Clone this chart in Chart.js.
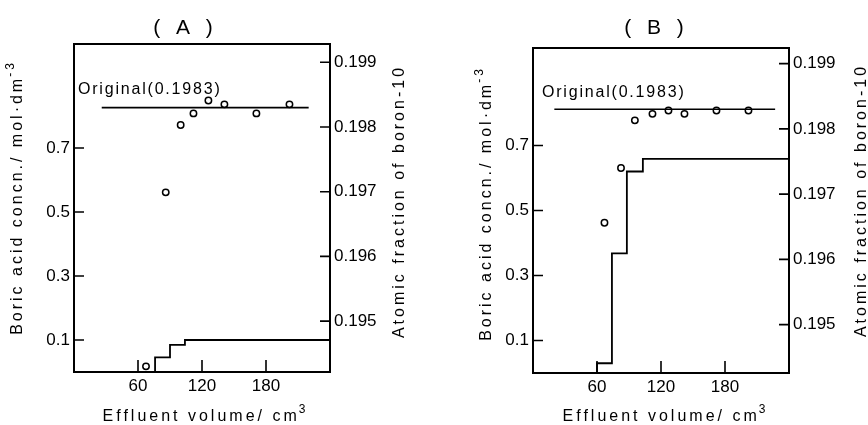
<!DOCTYPE html>
<html>
<head>
<meta charset="utf-8">
<script src="https://cdn.jsdelivr.net/npm/chart.js@4.4.1/dist/chart.umd.min.js"></script>
<style>
  html, body { margin: 0; padding: 0; background: #fff; }
  #wrap { position: relative; width: 868px; height: 425px; }
  .panel { position: absolute; top: 0; width: 434px; height: 425px; }
</style>
</head>
<body>
<div id="wrap">
  <div class="panel" style="left:0"><canvas id="chartA" width="434" height="425"></canvas></div>
  <div class="panel" style="left:434px"><canvas id="chartB" width="434" height="425"></canvas></div>
</div>
<script>
// tick labels
const volumeTicks = [60, 120, 180];
const concTicks = [0.1, 0.3, 0.5, 0.7];
const fractionTicks = [0.195, 0.196, 0.197, 0.198, 0.199];
const originalFraction = 0.1983;

// (A) atomic fraction of boron-10 per fraction (right axis)
const volA = [67.5, 86, 100, 112, 126, 141, 171, 202];
const fracA = [0.19430, 0.19699, 0.19803, 0.19821, 0.19841, 0.19835, 0.19821, 0.19835];
// (A) boric acid concentration, stepwise (left axis)
const stepVolA = [76, 76, 90, 104, 240];
const stepConcA = [0, 0.046, 0.085, 0.100, 0.100];
const originalVolA = [26, 220];

// (B)
const volB = [67, 82.5, 95.5, 112, 127, 142, 172, 202];
const fracB = [0.19656, 0.19740, 0.19813, 0.19823, 0.19828, 0.19823, 0.19828, 0.19828];
const stepVolB = [60, 60, 74, 88, 103, 240];
const stepConcB = [0, 0.030, 0.368, 0.620, 0.659, 0.659];
const originalVolB = [20, 227];

const INK = '#000';
const FONT = "'Liberation Sans', Arial, sans-serif";
Chart.defaults.font.family = FONT;
Chart.defaults.font.size = 17;
Chart.defaults.color = INK;

// text with a raised exponent, centred on (x, y) in the current (maybe rotated) frame
function drawWithSup(ctx, base, sup, x, y) {
    ctx.font = '16px ' + FONT;
    const w1 = ctx.measureText(base).width;
    ctx.font = '12px ' + FONT;
    const w2 = ctx.measureText(sup).width;
    const start = x - (w1 + w2) / 2;
    ctx.textAlign = 'left';
    ctx.font = '16px ' + FONT;
    ctx.fillText(base, start, y);
    ctx.font = '12px ' + FONT;
    ctx.fillText(sup, start + w1 - 1, y - 7);
}

// frame, inward tick marks and spaced-out titles
const framePlugin = {
    id: 'frame',
    afterDraw(chart, args, opts) {
        const { ctx, chartArea: a, scales } = chart;
        ctx.save();
        ctx.strokeStyle = INK;
        ctx.lineWidth = 2;
        ctx.strokeRect(a.left, a.top, a.width, a.height);

        ctx.lineWidth = 1.6;
        ctx.beginPath();
        scales.x.ticks.forEach(t => {
            const px = scales.x.getPixelForValue(t.value);
            ctx.moveTo(px, a.bottom);
            ctx.lineTo(px, a.bottom - 12);
        });
        scales.y.ticks.forEach(t => {
            const py = scales.y.getPixelForValue(t.value);
            ctx.moveTo(a.left, py);
            ctx.lineTo(a.left + 10, py);
        });
        scales.y2.ticks.forEach(t => {
            const py = scales.y2.getPixelForValue(t.value);
            ctx.moveTo(a.right, py);
            ctx.lineTo(a.right - 10, py);
        });
        ctx.stroke();

        ctx.fillStyle = INK;
        ctx.textAlign = 'center';
        ctx.textBaseline = 'middle';

        ctx.font = '21px ' + FONT;
        ctx.letterSpacing = '5px';
        ctx.fillText(opts.label, opts.labelX + 2.5, 28);

        // label of the original line
        ctx.font = '16px ' + FONT;
        ctx.letterSpacing = '1.8px';
        ctx.textAlign = 'left';
        ctx.fillText('Original(' + originalFraction + ')', opts.originalText[0], opts.originalText[1]);

        ctx.letterSpacing = '3px';
        drawWithSup(ctx, 'Effluent volume/ cm', '3', opts.xTitleX, 417);

        ctx.save();
        ctx.translate(opts.leftTitle[0], opts.leftTitle[1]);
        ctx.rotate(-Math.PI / 2);
        drawWithSup(ctx, 'Boric acid concn./ mol·dm', '-3', 0, 0);
        ctx.restore();

        ctx.save();
        ctx.translate(opts.rightTitle[0], opts.rightTitle[1]);
        ctx.rotate(-Math.PI / 2);
        ctx.font = '16px ' + FONT;
        ctx.textAlign = 'center';
        ctx.fillText('Atomic fraction of boron-10', 1.5, 0);
        ctx.restore();

        ctx.restore();
    }
};

function makePanel(canvasId, p) {
    const ctx = document.getElementById(canvasId).getContext('2d');
    return new Chart(ctx, {
        type: 'line',
        data: {
            datasets: [{
                label: 'Original',
                data: p.originalVol.map(v => ({ x: v, y: originalFraction })),
                yAxisID: 'y2',
                borderColor: INK,
                borderWidth: 1.6,
                pointRadius: 0
            }, {
                label: 'Atomic fraction',
                data: p.vol.map((v, i) => ({ x: v, y: p.frac[i] })),
                yAxisID: 'y2',
                showLine: false,
                pointStyle: 'circle',
                pointRadius: 3.2,
                pointBorderWidth: 1.5,
                pointBorderColor: INK,
                pointBackgroundColor: '#fff'
            }, {
                label: 'Concentration',
                data: p.stepVol.map((v, i) => ({ x: v, y: p.stepConc[i] })),
                yAxisID: 'y',
                stepped: true,
                borderColor: INK,
                borderWidth: 1.8,
                pointRadius: 0
            }]
        },
        options: {
            responsive: false,
            animation: false,
            events: [],
            layout: { padding: { top: p.top, left: 0, right: 0, bottom: 0 } },
            plugins: {
                legend: { display: false },
                tooltip: { enabled: false },
                frame: p.text
            },
            scales: {
                x: {
                    type: 'linear',
                    position: 'bottom',
                    min: 0,
                    max: 240,
                    afterBuildTicks: s => { s.ticks = volumeTicks.map(v => ({ value: v })); },
                    afterFit: s => { s.height = 425 - p.bottom; },
                    grid: { display: false, drawTicks: false },
                    border: { display: false },
                    ticks: { padding: 4, maxRotation: 0 }
                },
                y: {
                    position: 'left',
                    min: 0,
                    max: p.concMax,
                    afterBuildTicks: s => { s.ticks = concTicks.map(v => ({ value: v })); },
                    afterFit: s => { s.width = p.left; },
                    grid: { display: false, drawTicks: false },
                    border: { display: false },
                    ticks: { padding: 4, callback: v => v.toFixed(1) }
                },
                y2: {
                    position: 'right',
                    min: p.fracMin,
                    max: p.fracMax,
                    afterBuildTicks: s => { s.ticks = fractionTicks.map(v => ({ value: v })); },
                    afterFit: s => { s.width = 434 - p.right; },
                    grid: { display: false, drawTicks: false },
                    border: { display: false },
                    ticks: { padding: 4, callback: v => v.toFixed(3) }
                }
            }
        },
        plugins: [framePlugin]
    });
}

makePanel('chartA', {
    vol: volA, frac: fracA, stepVol: stepVolA, stepConc: stepConcA, originalVol: originalVolA,
    left: 74, right: 330, top: 44, bottom: 372,
    concMax: 1.025, fracMin: 0.194213, fracMax: 0.199283,
    text: { label: '( A )', labelX: 183, xTitleX: 206, leftTitle: [18, 197], rightTitle: [400, 203], originalText: [78, 90] }
});

makePanel('chartB', {
    vol: volB, frac: fracB, stepVol: stepVolB, stepConc: stepConcB, originalVol: originalVolB,
    left: 99, right: 355, top: 48, bottom: 373,
    concMax: 1.0, fracMin: 0.194258, fracMax: 0.199239,
    text: { label: '( B )', labelX: 220, xTitleX: 232, leftTitle: [53, 203], rightTitle: [428, 202], originalText: [108, 93] }
});
</script>
</body>
</html>
